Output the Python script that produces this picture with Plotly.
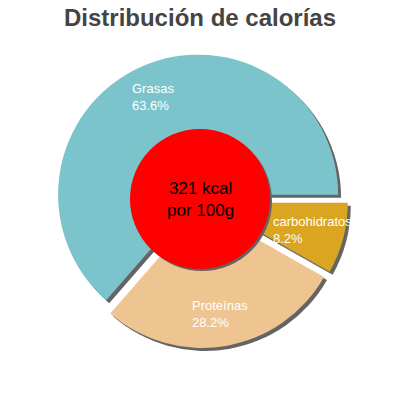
import math
import plotly.graph_objects as go

# datos
labels = ["Grasas", "Proteínas", "carbohidratos"]
values = [63.6, 28.2, 8.2]
colors = ["#7BC4CC", "#EEC591", "#DAA520"]
title = "Distribución de calorías"
center_text = "321 kcal<br>por 100g"

W = H = 400
cx, cy, R = 201, 201, 140   # centro y radio en px
pull = 0.05
shadow = 3
total = sum(values)
# en sentido antihorario plotly pone el final de la 1a porcion en "rotation"
rot = 90 - 360 * values[0] / total

def dom(x, y, half):
    return dict(x=[(x - half) / W, (x + half) / W], y=[1 - (y + half) / H, 1 - (y - half) / H])

half = R * (1 + pull)

fig = go.Figure()

# sombra
fig.add_trace(go.Pie(labels=labels, values=values, sort=False, direction="counterclockwise",
                     rotation=rot, pull=[pull] * len(values), textinfo="none", hoverinfo="skip",
                     marker=dict(colors=["#646464"] * len(values), line=dict(width=0)),
                     domain=dom(cx + shadow, cy + shadow, half), showlegend=False))
# tarta
fig.add_trace(go.Pie(labels=labels, values=values, sort=False, direction="counterclockwise",
                     rotation=rot, pull=[pull] * len(values), textinfo="none", hoverinfo="skip",
                     marker=dict(colors=colors, line=dict(width=0)),
                     domain=dom(cx, cy, half), showlegend=False))

# etiquetas sobre la bisectriz de cada porcion
start = 0
for lab, v in zip(labels, values):
    ang = math.radians(360 * (start + v / 2) / total)
    start += v
    r = pull * R + 0.77 * R
    px = cx + r * math.cos(ang)
    py = cy - r * math.sin(ang)
    fig.add_annotation(x=px / W, y=1 - py / H, xref="paper", yref="paper",
                       text=lab + "<br>" + "{:.1f}%".format(v), showarrow=False, align="left",
                       xanchor="center", yanchor="middle",
                       font=dict(family="Liberation Sans", size=13, color="white"))

# circulo rojo central
rc = 70
rx, ry = 200, 199
fig.add_shape(type="circle", xref="paper", yref="paper",
              x0=(rx - rc + 2) / W, x1=(rx + rc + 2) / W, y0=1 - (ry + rc + 2) / H, y1=1 - (ry - rc + 2) / H,
              fillcolor="#646464", line=dict(width=0), layer="above")
fig.add_shape(type="circle", xref="paper", yref="paper",
              x0=(rx - rc) / W, x1=(rx + rc) / W, y0=1 - (ry + rc) / H, y1=1 - (ry - rc) / H,
              fillcolor="#FF0000", line=dict(width=0), layer="above")
fig.add_annotation(x=rx / W, y=1 - ry / H, xref="paper", yref="paper", text=center_text,
                   showarrow=False, font=dict(family="Liberation Sans", size=17, color="black"))

fig.update_layout(
    width=W, height=H,
    margin=dict(l=0, r=0, t=0, b=0),
    paper_bgcolor="white", plot_bgcolor="white",
    title=dict(text=title, x=0.5, xanchor="center", y=1 - 18 / H, yanchor="middle",
               font=dict(family="Liberation Sans", size=24, color="#444444", weight="bold")),
)

# quitar el margen del <body> para que la figura empiece en (0, 0)
fig.write_html("out.html", config={"displayModeBar": False},
               post_script="document.body.style.margin='0';")
